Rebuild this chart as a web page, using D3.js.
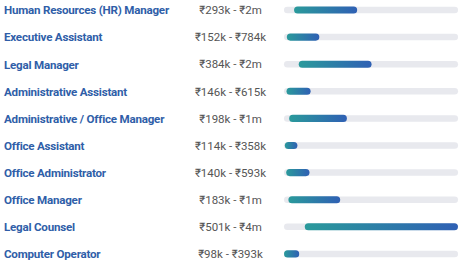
<!DOCTYPE html>
<html>
<head>
<meta charset="utf-8">
<script src="https://cdn.jsdelivr.net/npm/d3@7"></script>
<style>
    body { margin: 0; background: #fff; }
    .job { font-family: Roboto, "Noto Sans", sans-serif; font-weight: 700; font-size: 11.6px; letter-spacing: -0.22px; fill: #2f5ea8; }
    .range { font-family: Roboto, "Noto Sans", sans-serif; font-size: 11.5px; fill: #555; text-anchor: middle; }
    .track { fill: #e8e9ee; }
</style>
</head>
<body>
<svg id="chart" width="474" height="272"></svg>
<script>
    // job titles
    const jobs = [
        "Human Resources (HR) Manager",
        "Executive Assistant",
        "Legal Manager",
        "Administrative Assistant",
        "Administrative / Office Manager",
        "Office Assistant",
        "Office Administrator",
        "Office Manager",
        "Legal Counsel",
        "Computer Operator"
    ];
    // salary range text as shown
    const rangeLabels = [
        "₹293k - ₹2m",
        "₹152k - ₹784k",
        "₹384k - ₹2m",
        "₹146k - ₹615k",
        "₹198k - ₹1m",
        "₹114k - ₹358k",
        "₹140k - ₹593k",
        "₹183k - ₹1m",
        "₹501k - ₹4m",
        "₹98k - ₹393k"
    ];
    // low / high salary in thousands (estimated from bars)
    const lows = [293, 152, 384, 146, 198, 114, 140, 183, 501, 98];
    const highs = [1520, 784, 1800, 615, 1320, 358, 593, 1190, 3480, 393];

    const svg = d3.select("#chart");
    const rowTop = 10, rowStep = 27.1;
    const barH = 6.5;

    const x = d3.scaleLinear().domain([0, 3500]).range([279, 459]);
    const y = d3.scaleLinear().domain([0, 1]).range([rowTop, rowTop + rowStep]);

    const defs = svg.append("defs");
    const grad = defs.append("linearGradient")
        .attr("id", "barGrad")
        .attr("x1", "0%").attr("x2", "100%").attr("y1", "0%").attr("y2", "0%");
    grad.append("stop").attr("offset", "0%").attr("stop-color", "#2a9a9b");
    grad.append("stop").attr("offset", "100%").attr("stop-color", "#2f60b4");

    const rows = svg.selectAll(".row")
        .data(jobs)
        .enter()
        .append("g")
        .attr("class", "row")
        .attr("transform", (d, i) => `translate(0,${y(i)})`);

    rows.append("text")
        .attr("class", "job")
        .attr("x", 4)
        .attr("y", 4.3)
        .text(d => d);

    rows.append("text")
        .attr("class", "range")
        .attr("x", 230.5)
        .attr("y", 4.2)
        .text((d, i) => rangeLabels[i]);

    rows.append("rect")
        .attr("class", "track")
        .attr("x", 284)
        .attr("y", -barH / 2)
        .attr("width", 458 - 284)
        .attr("height", barH)
        .attr("rx", barH / 2);

    rows.append("rect")
        .attr("x", (d, i) => x(lows[i]))
        .attr("y", -barH / 2 - 0.3)
        .attr("width", (d, i) => Math.max(barH, x(highs[i]) - x(lows[i])))
        .attr("height", barH + 0.6)
        .attr("rx", (barH + 0.6) / 2)
        .attr("fill", "url(#barGrad)");
</script>
</body>
</html>
